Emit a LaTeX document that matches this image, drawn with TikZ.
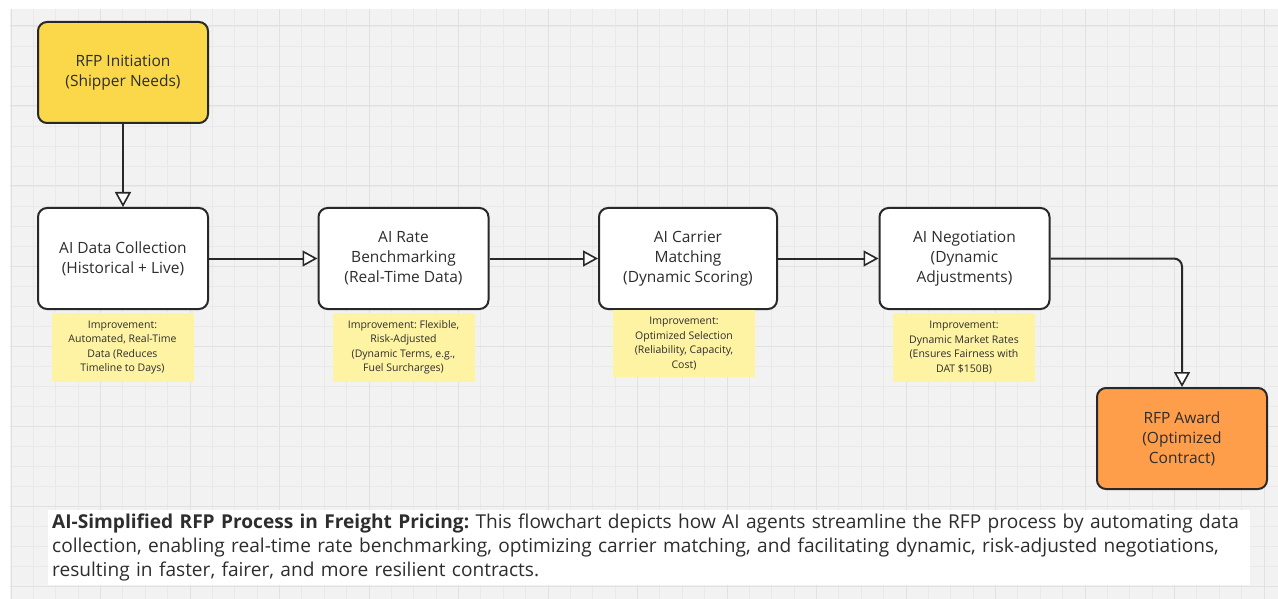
\documentclass[tikz,border=0pt]{standalone}
\usepackage{fontspec}
\setmainfont{Open Sans}
\usetikzlibrary{arrows.meta}
\definecolor{canvasgray}{RGB}{242,242,242}
\definecolor{gridminor}{RGB}{233,233,233}
\definecolor{gridmajor}{RGB}{225,225,225}
\definecolor{linedark}{RGB}{40,40,40}
\definecolor{textdark}{RGB}{45,45,45}
\definecolor{startyellow}{RGB}{250,216,74}
\definecolor{awardorange}{RGB}{255,158,74}
\definecolor{notepale}{RGB}{254,243,163}
\tikzset{
  stage/.style={draw=linedark, line width=2pt, rounded corners=9pt, fill=white,
    align=center, inner sep=0pt, minimum height=101pt, minimum width=170pt,
    text=textdark, font=\fontsize{15.5}{20}\selectfont},
  sticky/.style={fill=notepale, align=center, inner sep=0pt, minimum height=69pt,
    minimum width=142pt, text=textdark, font=\fontsize{10.5}{14.5}\selectfont},
  flow/.style={draw=linedark, line width=2pt,
    -{Triangle[fill=white, length=15pt, width=16pt, line width=1.6pt]}},
}
\begin{document}
\frenchspacing
\begin{tikzpicture}[x=1pt, y=-1pt]
      \useasboundingbox (0,0) rectangle (1278,599);
      \fill[canvasgray] (10,9) rectangle (1278,599);
      % grid
      \foreach \i in {0,...,56}
        \draw[gridminor, line width=0.8pt] ({11+22.375*\i},9) -- ({11+22.375*\i},599);
      \foreach \j in {1,...,29}
        \draw[gridminor, line width=0.8pt] (10,{6+20*\j}) -- (1278,{6+20*\j});
      \foreach \i in {0,...,14}
        \draw[gridmajor, line width=1pt] ({11+89.5*\i},9) -- ({11+89.5*\i},599);
      \foreach \j in {0,...,7}
        \draw[gridmajor, line width=1pt] (10,{26+80*\j}) -- (1278,{26+80*\j});
      % stages
      \node[stage, fill=startyellow] (init) at (123,72.5) {RFP Initiation\\(Shipper Needs)};
      \node[stage] (collect) at (123,258.5) {AI Data Collection\\(Historical + Live)};
      \node[stage] (bench) at (403.5,258.5) {AI Rate\\Benchmarking\\(Real-Time Data)};
      \node[stage, minimum width=178pt] (match) at (688,258.5) {AI Carrier\\Matching\\(Dynamic Scoring)};
      \node[stage] (negot) at (964.5,258.5) {AI Negotiation\\(Dynamic\\Adjustments)};
      \node[stage, fill=awardorange] (award) at (1182,438.5) {RFP Award\\(Optimized\\Contract)};
      % notes
      \node[sticky] (collectnote) at (122.5,347.5) {Improvement:\\Automated, Real-Time\\Data (Reduces\\Timeline to Days)};
      \node[sticky] (benchnote) at (403.5,347.5) {Improvement: Flexible,\\Risk-Adjusted\\(Dynamic Terms, e.g.,\\Fuel Surcharges)};
      \node[sticky, minimum height=67pt] (matchnote) at (684,343.5) {Improvement:\\Optimized Selection\\(Reliability, Capacity,\\Cost)};
      \node[sticky] (negotnote) at (964,347.5) {Improvement:\\Dynamic Market Rates\\(Ensures Fairness with\\DAT \$150B)};
      % flow
      \draw[flow] (init) -- (collect);
      \draw[flow] (collect) -- (bench);
      \draw[flow] (bench) -- (match);
      \draw[flow] (match) -- (negot);
      \draw[flow, rounded corners=8pt] (negot.east) -| (award.north);
      % caption
      \node[fill=white, anchor=north west, inner xsep=4pt, inner ysep=4pt,
        text width=1194pt, align=left, text=textdark,
        font=\fontsize{19.1}{24}\selectfont] (caption) at (48,510)
        {\textbf{AI-Simplified RFP Process in Freight Pricing:} This flowchart depicts how AI agents streamline the RFP process by automating data\\
        collection, enabling real-time rate benchmarking, optimizing carrier matching, and facilitating dynamic, risk-adjusted negotiations,\\
        resulting in faster, fairer, and more resilient contracts.};
    \end{tikzpicture}
\end{document}
